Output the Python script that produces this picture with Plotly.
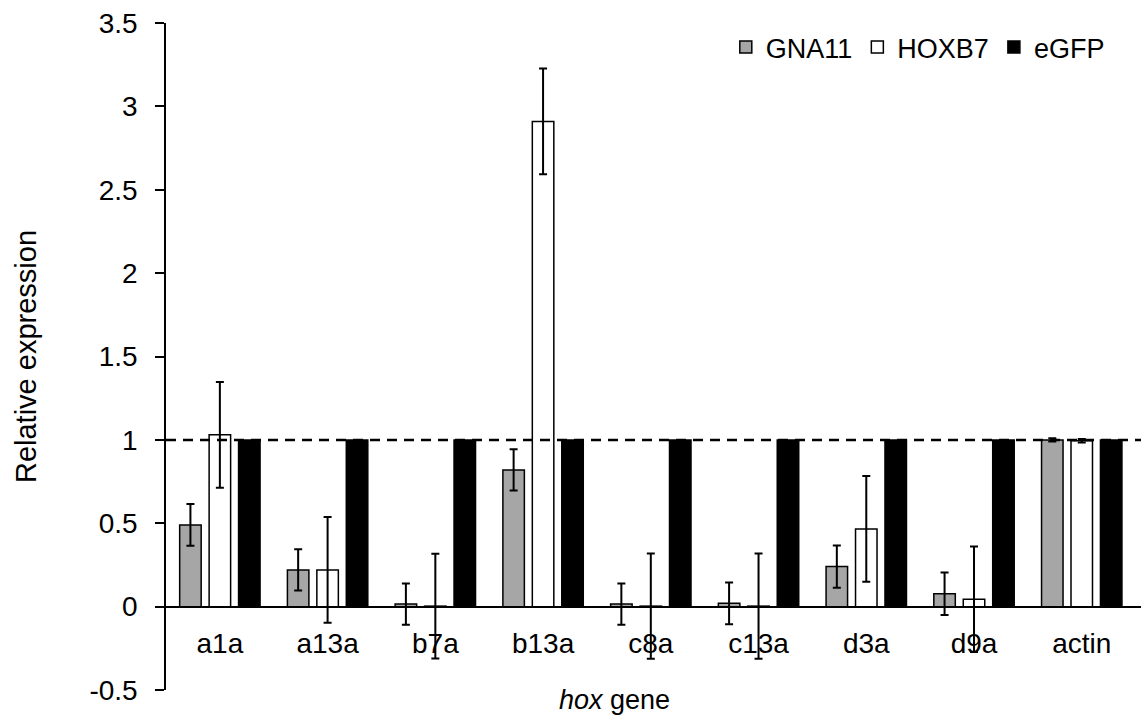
import plotly.graph_objects as go

genes = ["a1a", "a13a", "b7a", "b13a", "c8a", "c13a", "d3a", "d9a", "actin"]
gna11 = [0.49, 0.22, 0.015, 0.82, 0.015, 0.02, 0.24, 0.077, 1.0]
gna11_err = [0.125, 0.124, 0.124, 0.124, 0.124, 0.125, 0.127, 0.127, 0.01]
hoxb7 = [1.03, 0.22, 0.003, 2.91, 0.003, 0.003, 0.466, 0.044, 0.995]
hoxb7_err = [0.317, 0.317, 0.314, 0.317, 0.316, 0.315, 0.317, 0.316, 0.01]
egfp = [1.0, 1.0, 1.0, 1.0, 1.0, 1.0, 1.0, 1.0, 1.0]

FONT = "Liberation Sans, Arial, sans-serif"
err_style = dict(type="data", thickness=2, width=4, color="black", visible=True)

fig = go.Figure()
fig.add_trace(go.Bar(name="GNA11", x=genes, y=gna11,
                     marker=dict(color="#a6a6a6", line=dict(color="black", width=1.5)),
                     error_y=dict(array=gna11_err, **err_style)))
fig.add_trace(go.Bar(name="HOXB7", x=genes, y=hoxb7,
                     marker=dict(color="white", line=dict(color="black", width=1.5)),
                     error_y=dict(array=hoxb7_err, **err_style)))
fig.add_trace(go.Bar(name="eGFP", x=genes, y=egfp,
                     marker=dict(color="black", line=dict(color="black", width=1.5))))

fig.add_shape(type="line", xref="paper", x0=0, x1=1, yref="y", y0=1, y1=1,
              line=dict(color="black", width=2.5, dash="10px,7px"), layer="above")

fig.add_annotation(text="<i>hox</i> gene", xref="paper", yref="paper",
                   x=0.46, y=-0.015, xanchor="center", yanchor="middle",
                   showarrow=False, font=dict(size=27, color="black", family=FONT))

fig.update_layout(
    width=1141, height=721,
    margin=dict(l=166, r=0, t=23, b=31),
    paper_bgcolor="white", plot_bgcolor="white",
    barmode="group", bargap=0.18, bargroupgap=0.27,
    font=dict(family=FONT, size=28, color="black"),
    showlegend=True,
    legend=dict(orientation="h", x=0.968, xanchor="right", y=1.0, yanchor="top",
                font=dict(size=27, color="black"), itemwidth=30,
                bgcolor="rgba(0,0,0,0)", traceorder="normal"),
    xaxis=dict(range=[-0.5, 8.55], anchor="free", position=0.125,
               showline=True, linecolor="black", linewidth=2,
               ticks="", showgrid=False, zeroline=False,
               tickfont=dict(size=28, color="black"), ticklabelstandoff=12),
    yaxis=dict(range=[-0.5, 3.5], tickvals=[-0.5, 0, 0.5, 1, 1.5, 2, 2.5, 3, 3.5],
               ticktext=["-0.5", "0", "0.5", "1", "1.5", "2", "2.5", "3", "3.5"],
               showline=True, linecolor="black", linewidth=1.5,
               ticks="outside", ticklen=9, tickwidth=1.5, tickcolor="black",
               showgrid=False, zeroline=False, ticklabelstandoff=12,
               tickfont=dict(size=28, color="black"),
               title=dict(text="Relative expression", standoff=44,
                          font=dict(size=29, color="black"))),
)

fig.write_html("out.html")
